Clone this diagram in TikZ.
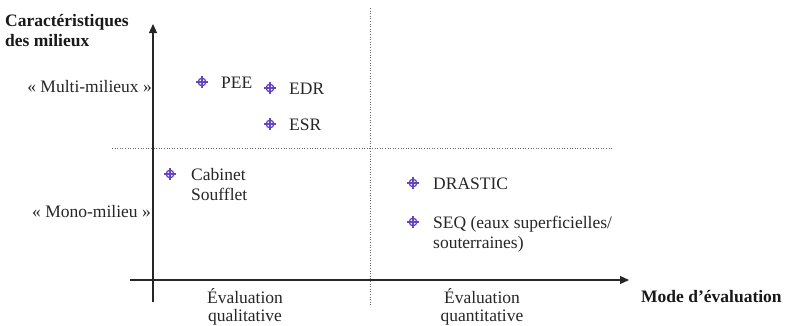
\documentclass[tikz,border=0pt]{standalone}
\usepackage{fontspec}
\setmainfont{Liberation Serif}
\usetikzlibrary{arrows.meta}
\definecolor{mk}{RGB}{100,70,190}
\begin{document}
\begin{tikzpicture}[x=1pt,y=-1pt,
  axis/.style={draw=black!85,line width=1.1pt},
  guide/.style={draw=black!60,line width=0.6pt,dotted},
  lbl/.style={font=\fontsize{17.5}{20}\selectfont,inner sep=0pt,text=black!85},
  blbl/.style={font=\fontsize{17.5}{20}\selectfont\bfseries,inner sep=0pt,text=black!90},
]
\useasboundingbox (0,0) rectangle (795,325);
\tikzset{crossmark/.pic={
  \draw[mk,line width=1.3pt] (0,0) circle (3.8);
  \draw[mk,line width=1.3pt] (-5.8,0) -- (5.8,0) (0,-5.8) -- (0,5.8);
}}
% guides
\coordinate (vgt) at (370,8);
\coordinate (vgb) at (370,306);
\coordinate (hgl) at (112,148);
\coordinate (hgr) at (612,148);
\draw[guide] (vgt) -- (vgb);
\draw[guide] (hgl) -- (hgr);
% axes
\coordinate (yb) at (153,302);
\coordinate (yt) at (153,24);
\coordinate (xl) at (130,280);
\coordinate (xr) at (629,280);
\draw[axis,-{Triangle[length=9pt,width=8pt]}] (yb) -- (yt);
\draw[axis,-{Triangle[length=9pt,width=8pt]}] (xl) -- (xr);
% axis titles
\node[blbl,anchor=base west] (yt1) at (5,26) {Caractéristiques};
\node[blbl,anchor=base west] (yt2) at (5,46) {des milieux};
\node[blbl,anchor=base west] (xtitle) at (641,302) {Mode d’évaluation};
\node[lbl,anchor=base east] (multi) at (152,92) {« Multi-milieux »};
\node[lbl,anchor=base east] (mono) at (151,217) {« Mono-milieu »};
\node[lbl,anchor=base] (qual1) at (245,303) {Évaluation};
\node[lbl,anchor=base] (qual2) at (245,321) {qualitative};
\node[lbl,anchor=base] (quan1) at (482,303) {Évaluation};
\node[lbl,anchor=base] (quan2) at (482,321) {quantitative};
% items
\pic at (202,82) {crossmark};
\node[lbl,anchor=base west] (pee) at (221,88) {PEE};
\pic at (270,88) {crossmark};
\node[lbl,anchor=base west] (edr) at (289,94) {EDR};
\pic at (270,124) {crossmark};
\node[lbl,anchor=base west] (esr) at (289,130) {ESR};
\pic at (170,174) {crossmark};
\node[lbl,anchor=base west] (cab1) at (191,180) {Cabinet};
\node[lbl,anchor=base west] (cab2) at (191,200) {Soufflet};
\pic at (413,183) {crossmark};
\node[lbl,anchor=base west] (dra) at (433,189) {DRASTIC};
\pic at (413,222) {crossmark};
\node[lbl,anchor=base west] (seq1) at (433,228) {SEQ (eaux superficielles/};
\node[lbl,anchor=base west] (seq2) at (433,248) {souterraines)};
\end{tikzpicture}
\end{document}
